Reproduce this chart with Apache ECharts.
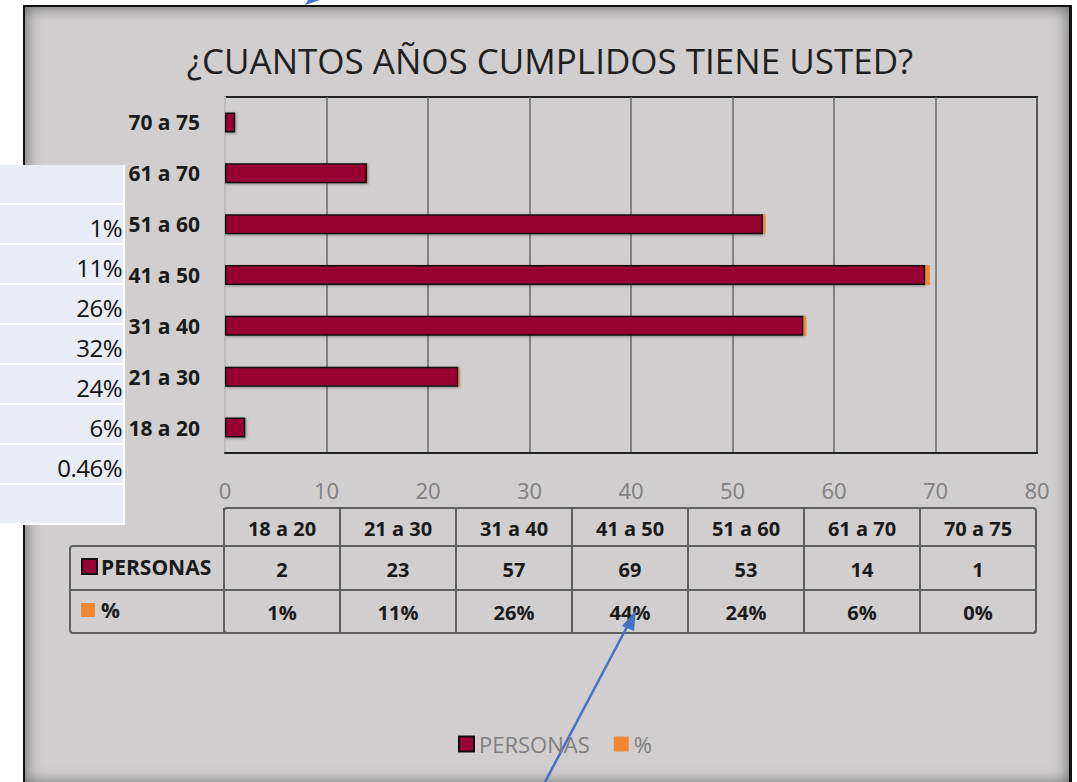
<!DOCTYPE html>
<html>
<head>
<meta charset="utf-8">
<title>¿CUANTOS AÑOS CUMPLIDOS TIENE USTED?</title>
<script src="https://cdn.jsdelivr.net/npm/echarts@6/dist/echarts.min.js"></script>
<style>
    html, body {
        margin: 0;
        padding: 0;
        width: 1077px;
        height: 782px;
        background: #ffffff;
        overflow: hidden;
    }
    .frame {
        position: absolute;
        left: 23px;
        top: 5px;
        width: 1044px;
        height: 777px;
        background: #d0cece;
        border-left: 2px solid #111;
        border-top: 2px solid #111;
        border-right: 3px solid #111;
        box-shadow: inset 0 0 16px rgba(0, 0, 0, 0.55);
    }
    #chart {
        position: absolute;
        left: 0;
        top: 0;
        width: 1077px;
        height: 782px;
    }
    .side-table {
        position: absolute;
        left: 0;
        top: 165px;
        width: 125px;
        background: #ffffff;
        font-family: "Open Sans", "Noto Sans", sans-serif;
        font-size: 24px;
        letter-spacing: -0.5px;
        color: #111;
    }
    .side-table div {
        height: 38px;
        line-height: 46px;
        margin-bottom: 2px;
        margin-right: 2px;
        background: #e9ebf5;
        text-align: right;
        padding-right: 1px;
        box-sizing: border-box;
    }
</style>
</head>
<body>
<div class="frame"></div>
<div id="chart"></div>
<div class="side-table" id="sideTable"></div>

<script>
// datos del grafico
var categories = ["18 a 20", "21 a 30", "31 a 40", "41 a 50", "51 a 60", "61 a 70", "70 a 75"];
var personas = [2, 23, 57, 69, 53, 14, 1];
var porcentaje = [0.01, 0.11, 0.26, 0.44, 0.24, 0.06, 0.0046];
var porcentajeLabels = ["1%", "11%", "26%", "44%", "24%", "6%", "0%"];
var xTicks = [0, 10, 20, 30, 40, 50, 60, 70, 80];
// tabla pegada a la izquierda (captura)
var sideValues = ["", "1%", "11%", "26%", "32%", "24%", "6%", "0.46%", ""];

var colorPersonas = "#990033";
var colorPct = "#f08532";
var fontMain = "'Open Sans', 'Noto Sans', sans-serif";

var side = document.getElementById("sideTable");
sideValues.forEach(function (v) {
    var d = document.createElement("div");
    d.textContent = v;
    side.appendChild(d);
});

// tabla de datos bajo el grafico
var tblLeft = 70, tblCol0 = 224, colW = 116;
var rowTop = [508, 546, 590], rowBottom = 633;

function buildTable() {
    var els = [];
    var lineStyle = { stroke: "#5f5f5f", lineWidth: 2 };
    var tableRight = tblCol0 + colW * categories.length;
    var cellFont = "bold 20px " + fontMain;
    // contornos
    els.push({ type: "rect", shape: { x: tblCol0, y: rowTop[0], width: tableRight - tblCol0, height: rowBottom - rowTop[0], r: 3 }, style: { fill: "none", stroke: "#5f5f5f", lineWidth: 2 } });
    els.push({ type: "rect", shape: { x: tblLeft, y: rowTop[1], width: tableRight - tblLeft, height: rowBottom - rowTop[1], r: 3 }, style: { fill: "none", stroke: "#5f5f5f", lineWidth: 2 } });
    els.push({ type: "line", shape: { x1: tblLeft, y1: rowTop[2], x2: tableRight, y2: rowTop[2] }, style: lineStyle });
    for (var i = 0; i < categories.length; i++) {
        var cx = tblCol0 + colW * i;
        if (i > 0) {
            els.push({ type: "line", shape: { x1: cx, y1: rowTop[0], x2: cx, y2: rowBottom }, style: lineStyle });
        }
        var mid = cx + colW / 2;
        [categories[i], String(personas[i]), porcentajeLabels[i]].forEach(function (t, r) {
            var yTop = rowTop[r], yBot = r < 2 ? rowTop[r + 1] : rowBottom;
            els.push({
                type: "text", x: mid, y: (yTop + yBot) / 2 + 1,
                style: { text: t, fill: "#1a1a1a", font: cellFont, align: "center", verticalAlign: "middle" }
            });
        });
    }
    els.push({ type: "line", shape: { x1: tblCol0, y1: rowTop[0], x2: tblCol0, y2: rowBottom }, style: lineStyle });
    // etiquetas de fila con su color
    els.push({ type: "rect", shape: { x: 82, y: 559, width: 15, height: 15 }, style: { fill: colorPersonas, stroke: "#111", lineWidth: 2 } });
    els.push({ type: "text", x: 101, y: 567, style: { text: "PERSONAS", fill: "#1a1a1a", font: "bold 21px " + fontMain, verticalAlign: "middle" } });
    els.push({ type: "rect", shape: { x: 81, y: 603, width: 14, height: 14 }, style: { fill: colorPct } });
    els.push({ type: "text", x: 101, y: 610, style: { text: "%", fill: "#1a1a1a", font: "bold 21px " + fontMain, verticalAlign: "middle" } });
    return els;
}

// flechas azules de la captura
var arrows = [
    { type: "line", shape: { x1: 545, y1: 782, x2: 628, y2: 625 }, style: { stroke: "#4472c4", lineWidth: 2.5 } },
    { type: "polygon", shape: { points: [[636, 610], [622, 626], [634, 631]] }, style: { fill: "#4472c4" } },
    { type: "polygon", shape: { points: [[305, 5], [320, 0], [308, 0]] }, style: { fill: "#4472c4" } }
];

var chart = echarts.init(document.getElementById("chart"), null, { renderer: "svg" });

var option = {
    backgroundColor: "transparent",
    animation: false,
    title: {
        text: "¿CUANTOS AÑOS CUMPLIDOS TIENE USTED?",
        left: 545,
        textAlign: "center",
        top: 38,
        textStyle: { fontFamily: fontMain, fontWeight: "normal", fontSize: 35, color: "#1f1f1f" }
    },
    legend: {
        left: 453,
        top: 728,
        itemWidth: 15,
        itemHeight: 15,
        itemGap: 24,
        textStyle: { fontFamily: fontMain, fontSize: 22, color: "#7f7f7f" },
        data: [
            { name: "PERSONAS", icon: "rect", itemStyle: { color: colorPersonas, borderColor: "#111", borderWidth: 2 } },
            { name: "%", icon: "rect", itemStyle: { color: colorPct, borderWidth: 0 } }
        ]
    },
    grid: {
        left: 225,
        right: 40,
        top: 97,
        bottom: 329,
        show: true,
        borderColor: "#222",
        borderWidth: 2
    },
    xAxis: {
        type: "value",
        min: xTicks[0],
        max: xTicks[xTicks.length - 1],
        interval: xTicks[1] - xTicks[0],
        axisLine: { show: true, lineStyle: { color: "#222", width: 2 } },
        axisTick: { show: false },
        axisLabel: { margin: 26, fontFamily: fontMain, fontSize: 22, color: "#808080" },
        splitLine: { lineStyle: { color: "#6a6a6a", width: 1.5 } }
    },
    yAxis: {
        type: "category",
        data: categories,
        axisLine: { show: true, lineStyle: { color: "#bdbcbc", width: 2 } },
        axisTick: { show: false },
        axisLabel: { margin: 25, fontFamily: fontMain, fontWeight: "bold", fontSize: 21, color: "#1a1a1a" }
    },
    series: [
        {
            name: "PERSONAS",
            type: "bar",
            stack: "total",
            data: personas,
            barWidth: 20,
            itemStyle: {
                color: colorPersonas,
                borderColor: "#111",
                borderWidth: 1.5,
                shadowColor: "rgba(0,0,0,0.35)",
                shadowBlur: 3,
                shadowOffsetX: 1,
                shadowOffsetY: 1
            }
        },
        {
            name: "%",
            type: "bar",
            stack: "total",
            data: porcentaje,
            barWidth: 20,
            itemStyle: { color: colorPct }
        }
    ],
    graphic: buildTable().concat(arrows)
};

chart.setOption(option);
</script>
</body>
</html>
